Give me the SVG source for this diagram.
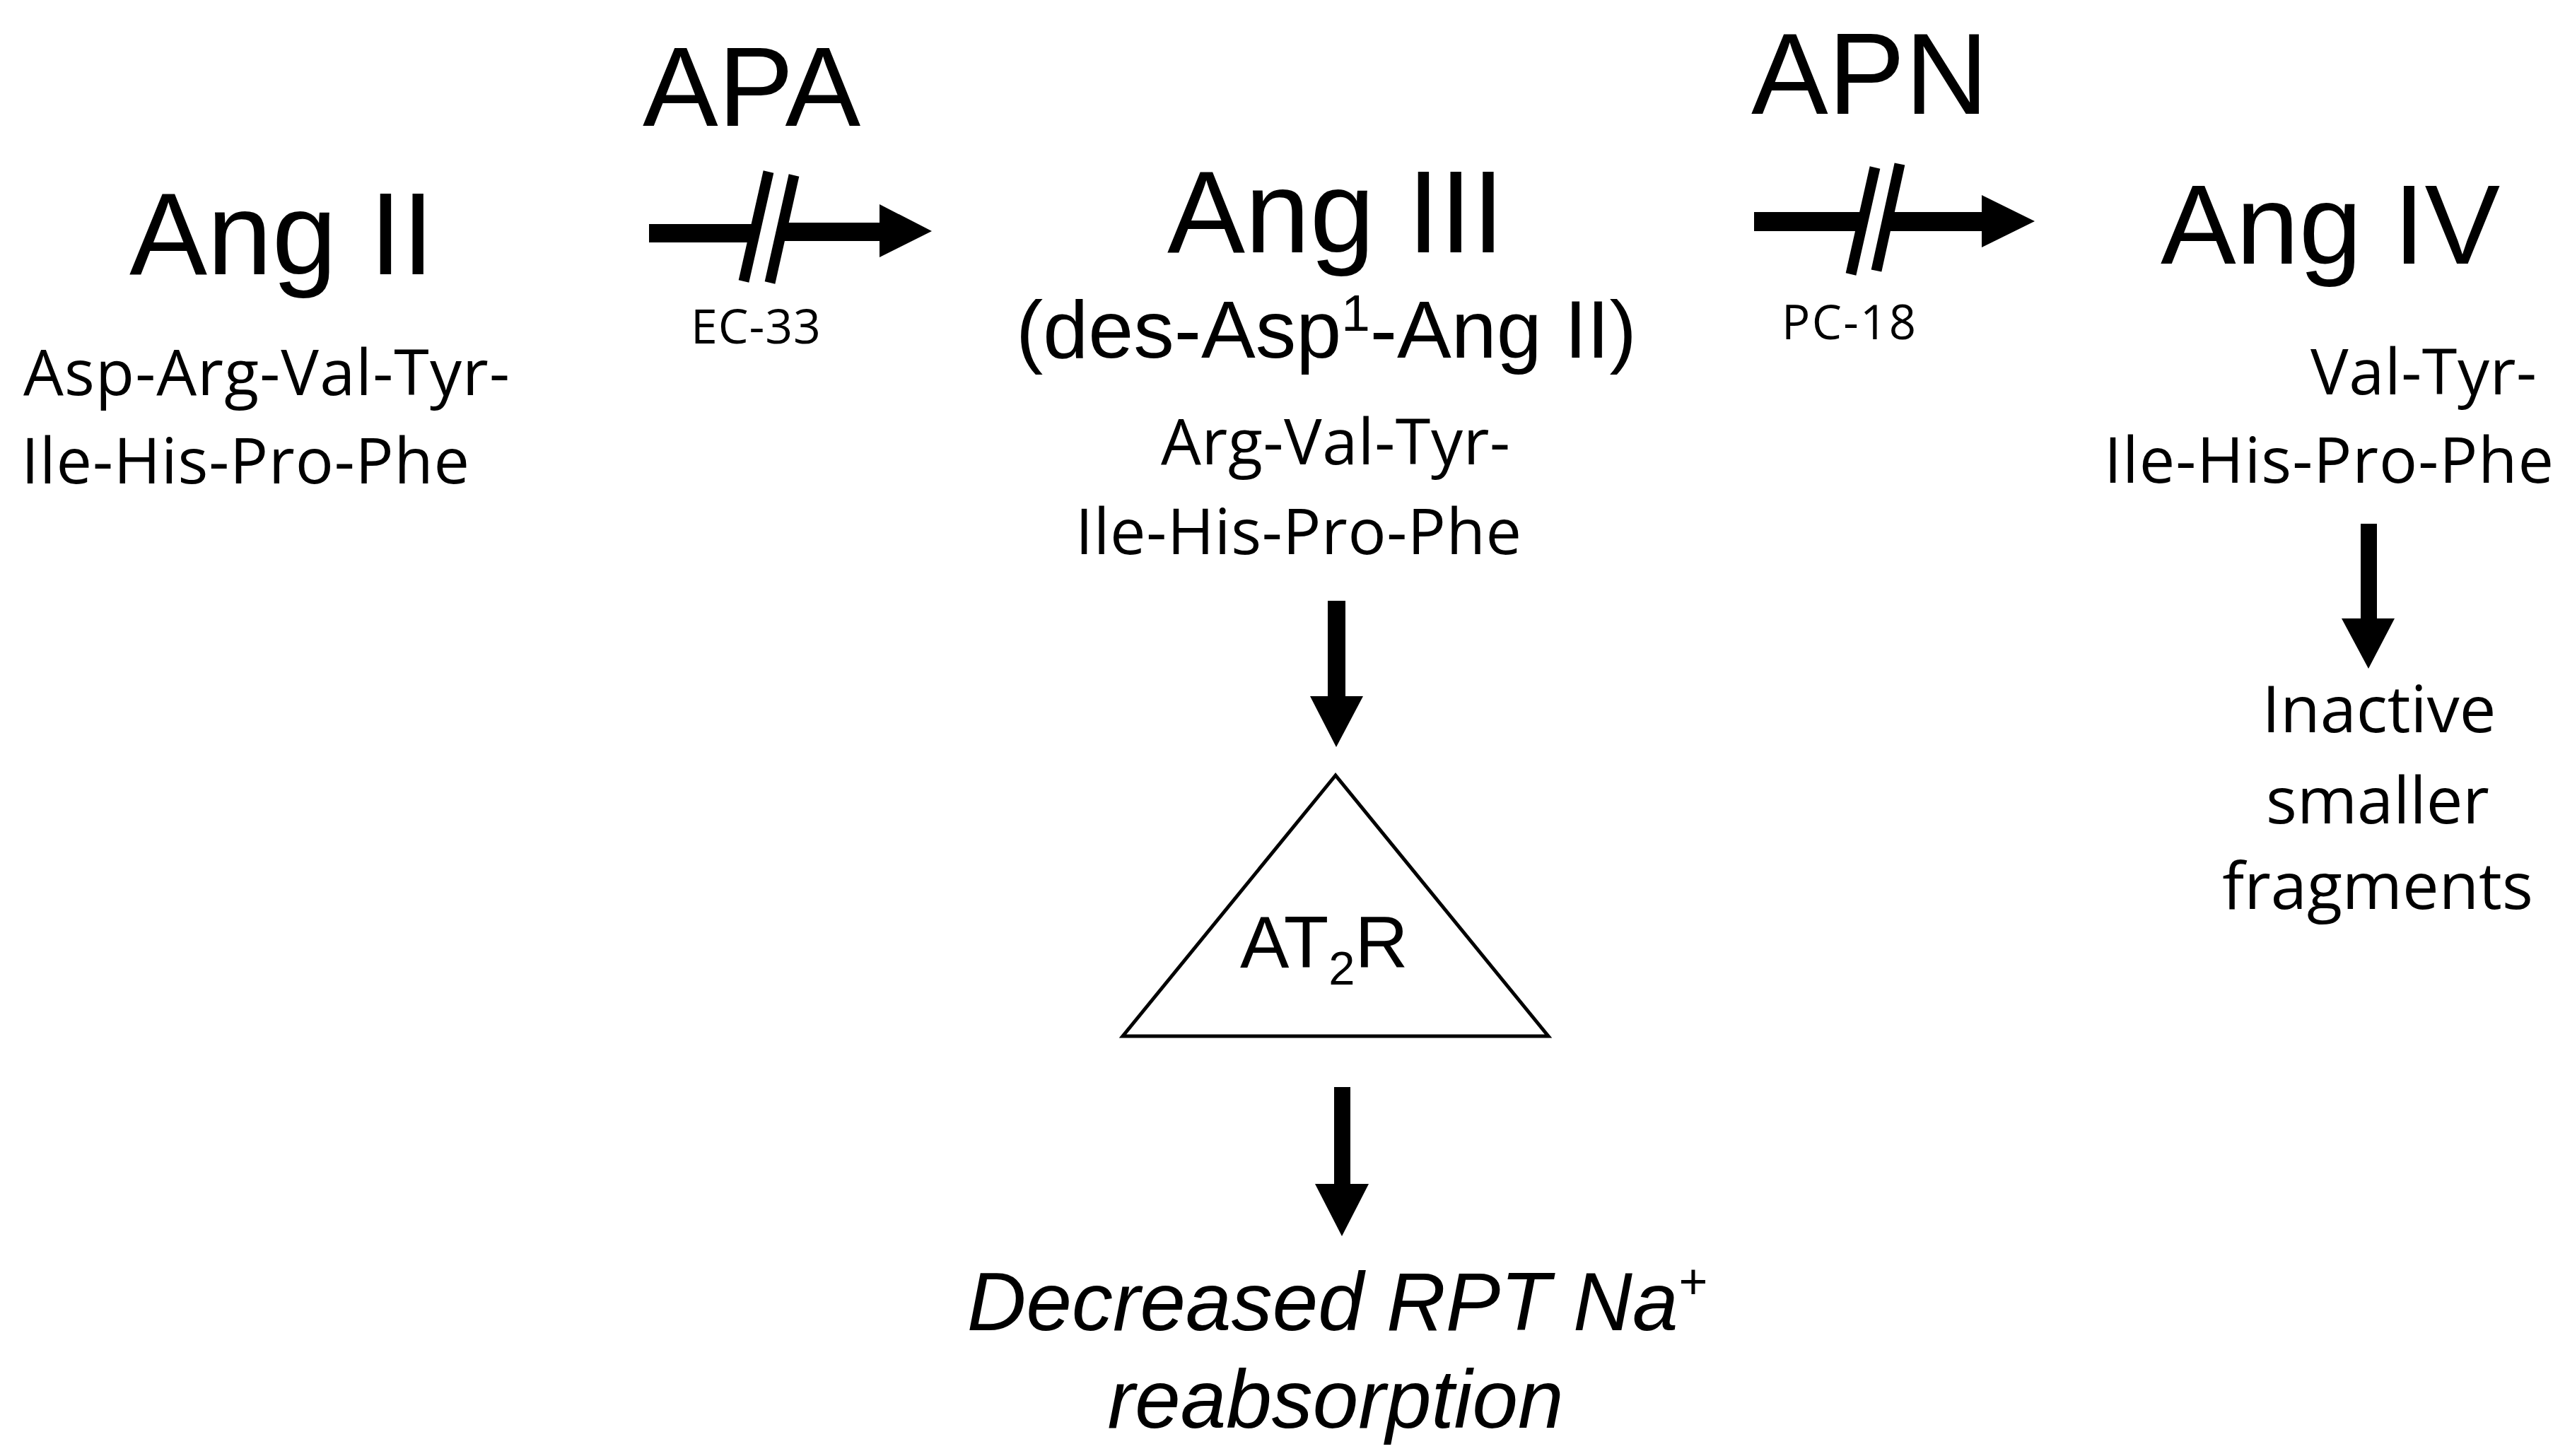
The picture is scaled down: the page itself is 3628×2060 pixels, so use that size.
<svg xmlns="http://www.w3.org/2000/svg" width="3628" height="2060" viewBox="0 0 3628 2060">
<style>
.big{font-family:"Liberation Sans",Arial,sans-serif;fill:#000}
.seq{font-family:"Open Sans","Noto Sans",sans-serif;fill:#000}
.blk{fill:#000;stroke:none}
.slash{stroke:#000;stroke-width:15;fill:none}
</style>
<rect width="3628" height="2060" fill="#fff"/>
<g id="angII">
<text class="big" x="183" y="388" font-size="165">Ang II</text>
<text class="seq" x="33" y="559" font-size="90" textLength="688">Asp-Arg-Val-Tyr-</text>
<text class="seq" x="30" y="684" font-size="90" textLength="634">Ile-His-Pro-Phe</text>
</g>
<g id="angIII">
<text class="big" x="1651" y="357" font-size="165">Ang III</text>
<text class="big" x="1437" y="506" font-size="115">(des-Asp<tspan font-size="73" dy="-38">1</tspan><tspan dy="38">-Ang II)</tspan></text>
<text class="seq" x="1642" y="657" font-size="90" textLength="494">Arg-Val-Tyr-</text>
<text class="seq" x="1521" y="784" font-size="90" textLength="631">Ile-His-Pro-Phe</text>
</g>
<g id="angIV">
<text class="big" x="3056" y="373" font-size="160">Ang IV</text>
<text class="seq" x="3268" y="558" font-size="90" textLength="320">Val-Tyr-</text>
<text class="seq" x="2976" y="683" font-size="90" textLength="636">Ile-His-Pro-Phe</text>
</g>
<g id="at2r">
<polygon points="1889,1097 1588,1466 2190,1466" fill="#fff" stroke="#000" stroke-width="5"/>
<text class="big" x="1754" y="1369" font-size="104">AT<tspan font-size="67" dy="24">2</tspan><tspan dy="-24">R</tspan></text>
</g>
<g id="decreased">
<text class="big" x="1891" y="1882" font-size="116" font-style="italic" text-anchor="middle">Decreased RPT Na<tspan font-size="70" dy="-45">+</tspan></text>
<text class="big" x="1889" y="2020" font-size="116" font-style="italic" text-anchor="middle">reabsorption</text>
</g>
<g id="inactive">
<text class="seq" x="3365" y="1036" font-size="92" text-anchor="middle">Inactive</text>
<text class="seq" x="3363" y="1165" font-size="92" text-anchor="middle">smaller</text>
<text class="seq" x="3363" y="1286" font-size="92" text-anchor="middle">fragments</text>
</g>
<g id="connectors">
<g id="apa-arrow">
<text class="big" x="909" y="178" font-size="160">APA</text>
<rect class="blk" x="918" y="317" width="149" height="26"/>
<rect class="blk" x="1105" y="315" width="142" height="26"/>
<polygon class="blk" points="1244,289 1318,327 1244,364"/>
<line class="slash" x1="1087" y1="243" x2="1052" y2="398"/>
<line class="slash" x1="1123" y1="248" x2="1089" y2="400"/>
<text class="seq" x="977" y="486" font-size="68" textLength="184">EC-33</text>
</g>
<g id="apn-arrow">
<text class="big" x="2477" y="161" font-size="163">APN</text>
<rect class="blk" x="2481" y="300" width="154" height="27"/>
<rect class="blk" x="2669" y="300" width="137" height="27"/>
<polygon class="blk" points="2803,276 2878,313 2803,350"/>
<line class="slash" x1="2652" y1="237" x2="2618" y2="388"/>
<line class="slash" x1="2687" y1="232" x2="2654" y2="383"/>
<text class="seq" x="2520" y="480" font-size="67" textLength="190">PC-18</text>
</g>
<polygon id="arr-angIII-at2r" class="blk" points="1878,850 1903,850 1903,985 1928,985 1890,1057 1853,985 1878,985"/>
<polygon id="arr-at2r-dec" class="blk" points="1887,1538 1910,1538 1910,1675 1936,1675 1898,1749 1860,1675 1887,1675"/>
<polygon id="arr-angIV-inactive" class="blk" points="3339,741 3362,741 3362,875 3387,875 3350,946 3312,875 3339,875"/>
</g>
</svg>
